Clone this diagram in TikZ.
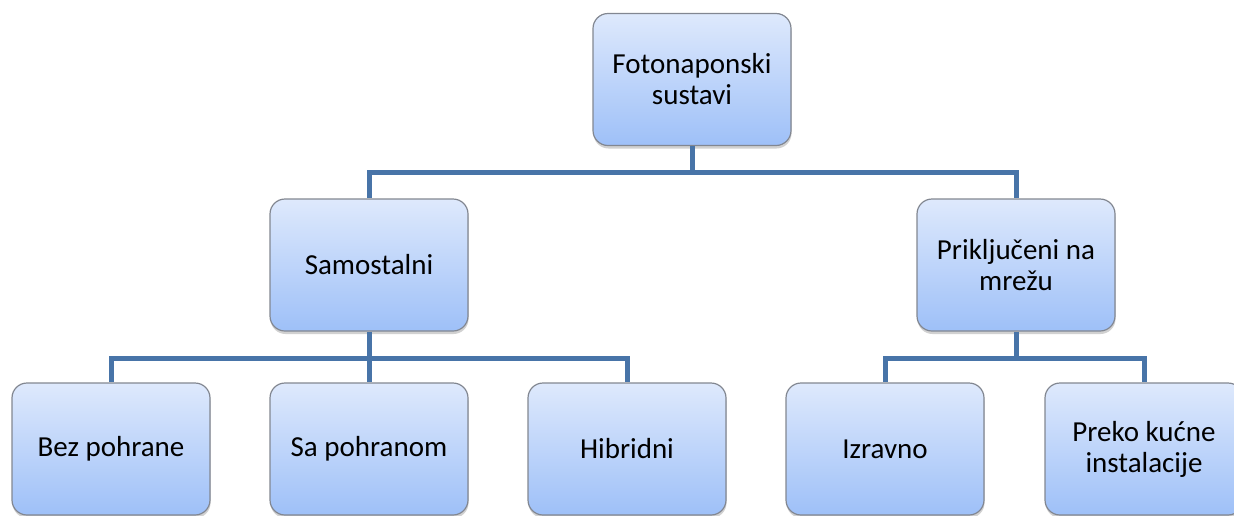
\documentclass[tikz,border=0pt]{standalone}
\usepackage{fontspec}
\setmainfont{Carlito}
\usetikzlibrary{shadows}
\definecolor{conncol}{RGB}{72,116,168}
\definecolor{boxtop}{RGB}{222,233,252}
\definecolor{boxbot}{RGB}{158,192,248}
\definecolor{boxline}{RGB}{130,135,145}
\tikzset{
  box/.style={draw=boxline, line width=1.2pt, rounded corners=15pt,
    top color=boxtop, bottom color=boxbot,
    minimum width=198pt, minimum height=132pt, inner sep=0pt,
    align=center, font=\fontsize{29}{31}\selectfont,
    drop shadow={shadow xshift=0.5pt, shadow yshift=-3pt, opacity=0.18, fill=black}},
  conn/.style={draw=conncol, line width=5pt, line join=miter}
}
\begin{document}
\begin{tikzpicture}[x=1pt,y=-1pt]
\useasboundingbox (0,0) rectangle (1234,515);
\node[box] (top) at (692,79.5) {Fotonaponski\\sustavi};
\node[box] (sam) at (369,265) {Samostalni};
\node[box] (pri) at (1016,265) {Priključeni na\\mrežu};
\node[box] (bez) at (111,449) {Bez pohrane};
\node[box] (sap) at (369,449) {Sa pohranom};
\node[box] (hib) at (627,449) {Hibridni};
\node[box] (izr) at (885,449) {Izravno};
\node[box] (pre) at (1144,449) {Preko kućne\\instalacije};
\draw[conn] (top.south) -- (top.south |- 0,172) -| (sam.north);
\draw[conn] (top.south |- 0,172) -| (pri.north);
\draw[conn] (sam.south) -- (sam.south |- 0,358) -| (bez.north);
\draw[conn] (sam.south |- 0,358) -- (sap.north);
\draw[conn] (sam.south |- 0,358) -| (hib.north);
\draw[conn] (pri.south) -- (pri.south |- 0,358) -| (izr.north);
\draw[conn] (pri.south |- 0,358) -| (pre.north);
\end{tikzpicture}
\end{document}
